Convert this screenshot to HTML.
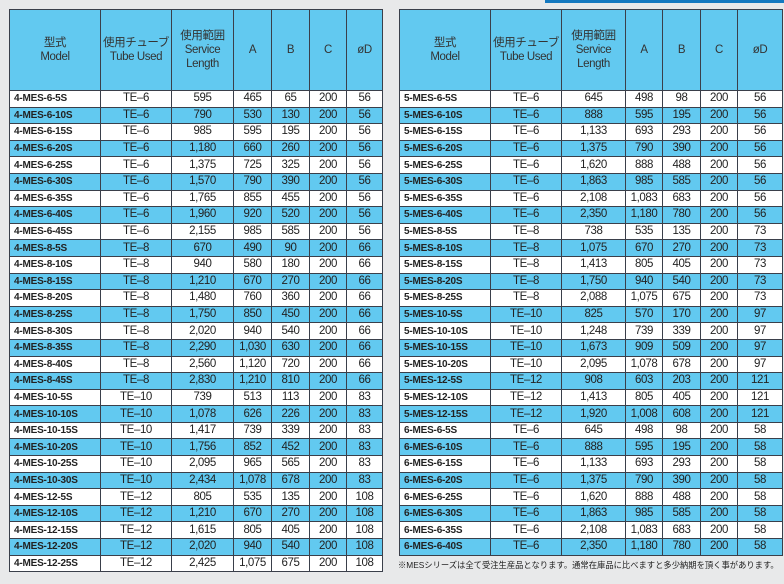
<!DOCTYPE html><html><head><meta charset="utf-8"><style>
body{margin:0;width:784px;height:584px;background:#e8e9ea;position:relative;overflow:hidden;font-family:"Liberation Sans","Noto Sans CJK JP",sans-serif;}
table{position:absolute;top:9px;border-collapse:collapse;table-layout:fixed;color:#222;}
td,th{border:1px solid #3a3f4a;padding:0;font-size:11.5px;text-align:center;letter-spacing:-0.4px;overflow:hidden;white-space:nowrap}
th{background:#62c9f0;font-weight:normal;height:80px;line-height:14px;color:#333}
td{height:15.6px;line-height:15px}
tr:nth-child(odd) td{background:#62c9f0}
tr:nth-child(even) td{background:#fff}
td:first-child{text-align:left;font-weight:bold;font-size:10px;padding-left:4px;letter-spacing:-0.2px}
#L{left:9px;width:373px}
#R{left:399px;width:383px}
.tab{position:absolute;top:0;left:545px;width:239px;height:3px;background:#1479c0}
.note{position:absolute;left:398px;top:559px;font-size:8.3px;color:#222;white-space:nowrap}
</style></head><body>
<div class="tab"></div>
<table id="L"><colgroup><col style="width:91px"><col style="width:71px"><col style="width:62px"><col style="width:38px"><col style="width:38px"><col style="width:37px"><col style="width:36px"></colgroup>
<tr><th>型式<br>Model</th><th>使用チューブ<br>Tube Used</th><th>使用範囲<br>Service<br>Length</th><th>A</th><th>B</th><th>C</th><th>øD</th></tr>
<tr><td>4-MES-6-5S</td><td>TE–6</td><td>595</td><td>465</td><td>65</td><td>200</td><td>56</td></tr>
<tr><td>4-MES-6-10S</td><td>TE–6</td><td>790</td><td>530</td><td>130</td><td>200</td><td>56</td></tr>
<tr><td>4-MES-6-15S</td><td>TE–6</td><td>985</td><td>595</td><td>195</td><td>200</td><td>56</td></tr>
<tr><td>4-MES-6-20S</td><td>TE–6</td><td>1,180</td><td>660</td><td>260</td><td>200</td><td>56</td></tr>
<tr><td>4-MES-6-25S</td><td>TE–6</td><td>1,375</td><td>725</td><td>325</td><td>200</td><td>56</td></tr>
<tr><td>4-MES-6-30S</td><td>TE–6</td><td>1,570</td><td>790</td><td>390</td><td>200</td><td>56</td></tr>
<tr><td>4-MES-6-35S</td><td>TE–6</td><td>1,765</td><td>855</td><td>455</td><td>200</td><td>56</td></tr>
<tr><td>4-MES-6-40S</td><td>TE–6</td><td>1,960</td><td>920</td><td>520</td><td>200</td><td>56</td></tr>
<tr><td>4-MES-6-45S</td><td>TE–6</td><td>2,155</td><td>985</td><td>585</td><td>200</td><td>56</td></tr>
<tr><td>4-MES-8-5S</td><td>TE–8</td><td>670</td><td>490</td><td>90</td><td>200</td><td>66</td></tr>
<tr><td>4-MES-8-10S</td><td>TE–8</td><td>940</td><td>580</td><td>180</td><td>200</td><td>66</td></tr>
<tr><td>4-MES-8-15S</td><td>TE–8</td><td>1,210</td><td>670</td><td>270</td><td>200</td><td>66</td></tr>
<tr><td>4-MES-8-20S</td><td>TE–8</td><td>1,480</td><td>760</td><td>360</td><td>200</td><td>66</td></tr>
<tr><td>4-MES-8-25S</td><td>TE–8</td><td>1,750</td><td>850</td><td>450</td><td>200</td><td>66</td></tr>
<tr><td>4-MES-8-30S</td><td>TE–8</td><td>2,020</td><td>940</td><td>540</td><td>200</td><td>66</td></tr>
<tr><td>4-MES-8-35S</td><td>TE–8</td><td>2,290</td><td>1,030</td><td>630</td><td>200</td><td>66</td></tr>
<tr><td>4-MES-8-40S</td><td>TE–8</td><td>2,560</td><td>1,120</td><td>720</td><td>200</td><td>66</td></tr>
<tr><td>4-MES-8-45S</td><td>TE–8</td><td>2,830</td><td>1,210</td><td>810</td><td>200</td><td>66</td></tr>
<tr><td>4-MES-10-5S</td><td>TE–10</td><td>739</td><td>513</td><td>113</td><td>200</td><td>83</td></tr>
<tr><td>4-MES-10-10S</td><td>TE–10</td><td>1,078</td><td>626</td><td>226</td><td>200</td><td>83</td></tr>
<tr><td>4-MES-10-15S</td><td>TE–10</td><td>1,417</td><td>739</td><td>339</td><td>200</td><td>83</td></tr>
<tr><td>4-MES-10-20S</td><td>TE–10</td><td>1,756</td><td>852</td><td>452</td><td>200</td><td>83</td></tr>
<tr><td>4-MES-10-25S</td><td>TE–10</td><td>2,095</td><td>965</td><td>565</td><td>200</td><td>83</td></tr>
<tr><td>4-MES-10-30S</td><td>TE–10</td><td>2,434</td><td>1,078</td><td>678</td><td>200</td><td>83</td></tr>
<tr><td>4-MES-12-5S</td><td>TE–12</td><td>805</td><td>535</td><td>135</td><td>200</td><td>108</td></tr>
<tr><td>4-MES-12-10S</td><td>TE–12</td><td>1,210</td><td>670</td><td>270</td><td>200</td><td>108</td></tr>
<tr><td>4-MES-12-15S</td><td>TE–12</td><td>1,615</td><td>805</td><td>405</td><td>200</td><td>108</td></tr>
<tr><td>4-MES-12-20S</td><td>TE–12</td><td>2,020</td><td>940</td><td>540</td><td>200</td><td>108</td></tr>
<tr><td>4-MES-12-25S</td><td>TE–12</td><td>2,425</td><td>1,075</td><td>675</td><td>200</td><td>108</td></tr>
</table>
<table id="R"><colgroup><col style="width:91px"><col style="width:71px"><col style="width:64px"><col style="width:37px"><col style="width:38px"><col style="width:37px"><col style="width:45px"></colgroup>
<tr><th>型式<br>Model</th><th>使用チューブ<br>Tube Used</th><th>使用範囲<br>Service<br>Length</th><th>A</th><th>B</th><th>C</th><th>øD</th></tr>
<tr><td>5-MES-6-5S</td><td>TE–6</td><td>645</td><td>498</td><td>98</td><td>200</td><td>56</td></tr>
<tr><td>5-MES-6-10S</td><td>TE–6</td><td>888</td><td>595</td><td>195</td><td>200</td><td>56</td></tr>
<tr><td>5-MES-6-15S</td><td>TE–6</td><td>1,133</td><td>693</td><td>293</td><td>200</td><td>56</td></tr>
<tr><td>5-MES-6-20S</td><td>TE–6</td><td>1,375</td><td>790</td><td>390</td><td>200</td><td>56</td></tr>
<tr><td>5-MES-6-25S</td><td>TE–6</td><td>1,620</td><td>888</td><td>488</td><td>200</td><td>56</td></tr>
<tr><td>5-MES-6-30S</td><td>TE–6</td><td>1,863</td><td>985</td><td>585</td><td>200</td><td>56</td></tr>
<tr><td>5-MES-6-35S</td><td>TE–6</td><td>2,108</td><td>1,083</td><td>683</td><td>200</td><td>56</td></tr>
<tr><td>5-MES-6-40S</td><td>TE–6</td><td>2,350</td><td>1,180</td><td>780</td><td>200</td><td>56</td></tr>
<tr><td>5-MES-8-5S</td><td>TE–8</td><td>738</td><td>535</td><td>135</td><td>200</td><td>73</td></tr>
<tr><td>5-MES-8-10S</td><td>TE–8</td><td>1,075</td><td>670</td><td>270</td><td>200</td><td>73</td></tr>
<tr><td>5-MES-8-15S</td><td>TE–8</td><td>1,413</td><td>805</td><td>405</td><td>200</td><td>73</td></tr>
<tr><td>5-MES-8-20S</td><td>TE–8</td><td>1,750</td><td>940</td><td>540</td><td>200</td><td>73</td></tr>
<tr><td>5-MES-8-25S</td><td>TE–8</td><td>2,088</td><td>1,075</td><td>675</td><td>200</td><td>73</td></tr>
<tr><td>5-MES-10-5S</td><td>TE–10</td><td>825</td><td>570</td><td>170</td><td>200</td><td>97</td></tr>
<tr><td>5-MES-10-10S</td><td>TE–10</td><td>1,248</td><td>739</td><td>339</td><td>200</td><td>97</td></tr>
<tr><td>5-MES-10-15S</td><td>TE–10</td><td>1,673</td><td>909</td><td>509</td><td>200</td><td>97</td></tr>
<tr><td>5-MES-10-20S</td><td>TE–10</td><td>2,095</td><td>1,078</td><td>678</td><td>200</td><td>97</td></tr>
<tr><td>5-MES-12-5S</td><td>TE–12</td><td>908</td><td>603</td><td>203</td><td>200</td><td>121</td></tr>
<tr><td>5-MES-12-10S</td><td>TE–12</td><td>1,413</td><td>805</td><td>405</td><td>200</td><td>121</td></tr>
<tr><td>5-MES-12-15S</td><td>TE–12</td><td>1,920</td><td>1,008</td><td>608</td><td>200</td><td>121</td></tr>
<tr><td>6-MES-6-5S</td><td>TE–6</td><td>645</td><td>498</td><td>98</td><td>200</td><td>58</td></tr>
<tr><td>6-MES-6-10S</td><td>TE–6</td><td>888</td><td>595</td><td>195</td><td>200</td><td>58</td></tr>
<tr><td>6-MES-6-15S</td><td>TE–6</td><td>1,133</td><td>693</td><td>293</td><td>200</td><td>58</td></tr>
<tr><td>6-MES-6-20S</td><td>TE–6</td><td>1,375</td><td>790</td><td>390</td><td>200</td><td>58</td></tr>
<tr><td>6-MES-6-25S</td><td>TE–6</td><td>1,620</td><td>888</td><td>488</td><td>200</td><td>58</td></tr>
<tr><td>6-MES-6-30S</td><td>TE–6</td><td>1,863</td><td>985</td><td>585</td><td>200</td><td>58</td></tr>
<tr><td>6-MES-6-35S</td><td>TE–6</td><td>2,108</td><td>1,083</td><td>683</td><td>200</td><td>58</td></tr>
<tr><td>6-MES-6-40S</td><td>TE–6</td><td>2,350</td><td>1,180</td><td>780</td><td>200</td><td>58</td></tr>
</table>
<div class="note">※MESシリーズは全て受注生産品となります。通常在庫品に比べますと多少納期を頂く事があります。</div>
</body></html>
